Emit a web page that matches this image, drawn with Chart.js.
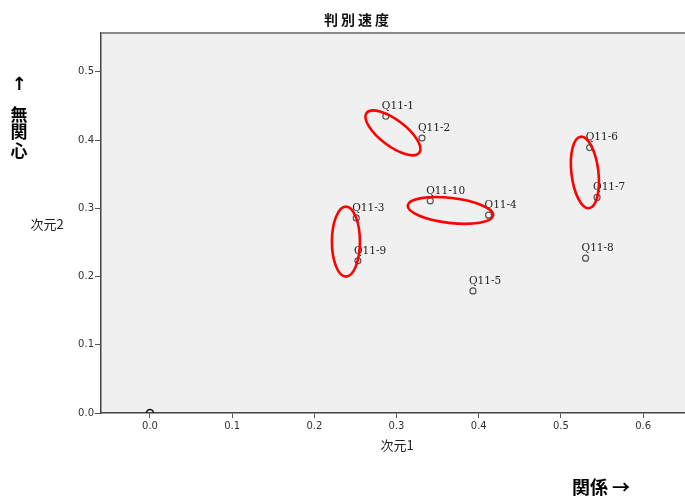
<!DOCTYPE html>
<html>
<head>
<meta charset="utf-8">
<script src="https://cdn.jsdelivr.net/npm/chart.js@4/dist/chart.umd.min.js"></script>
<style>
  html, body { margin: 0; padding: 0; background: #fff; }
  #wrap { width: 685px; height: 497px; }
</style>
</head>
<body>
<div id="wrap"><canvas id="c" width="685" height="497"></canvas></div>
<script>
// Item names and their coordinates on the two dimensions
const itemLabels = ['Q11-1', 'Q11-2', 'Q11-3', 'Q11-4', 'Q11-5', 'Q11-6', 'Q11-7', 'Q11-8', 'Q11-9', 'Q11-10'];
const dim1 = [0.287, 0.331, 0.251, 0.412, 0.393, 0.535, 0.544, 0.530, 0.253, 0.341];
const dim2 = [0.435, 0.403, 0.286, 0.290, 0.179, 0.389, 0.316, 0.227, 0.223, 0.311];

// Origin marker
const originX = [0.0];
const originY = [0.0];

// Tick values
const xTicks = [0.0, 0.1, 0.2, 0.3, 0.4, 0.5, 0.6];
const yTicks = [0.0, 0.1, 0.2, 0.3, 0.4, 0.5];

// Group outlines: centre in data units, radii (px) and rotation (deg)
const groupCentreX = [0.2956, 0.3656, 0.2384, 0.5292];
const groupCentreY = [0.4106, 0.2969, 0.2512, 0.3526];
const groupRadiusA = [33, 43, 14, 13.5];
const groupRadiusB = [13, 12.5, 35, 36];
const groupAngle = [37, 6.7, 0, -6.7];

const decorations = {
  id: 'decorations',
  beforeDraw(chart) {
    const { ctx, chartArea: a } = chart;
    ctx.save();
    ctx.fillStyle = '#ffffff';
    ctx.fillRect(0, 0, chart.width, chart.height);
    ctx.fillStyle = '#f0f0f0';
    ctx.fillRect(a.left, a.top, a.right - a.left, a.bottom - a.top);
    ctx.restore();
  },
  afterDraw(chart) {
    const { ctx, chartArea: a, scales: { x, y } } = chart;
    ctx.save();

    // top frame line
    ctx.strokeStyle = '#8a8a8a';
    ctx.lineWidth = 2;
    ctx.beginPath();
    ctx.moveTo(a.left, a.top);
    ctx.lineTo(a.right, a.top);
    ctx.stroke();

    // point labels
    ctx.fillStyle = '#222';
    ctx.font = '10.5px "DejaVu Serif"';
    ctx.textAlign = 'left';
    ctx.textBaseline = 'middle';
    itemLabels.forEach((lab, i) => {
      const px = x.getPixelForValue(dim1[i]);
      const py = y.getPixelForValue(dim2[i]);
      ctx.fillText(lab, px - 4, py - 10);
    });

    // group ellipses
    ctx.strokeStyle = '#ff0000';
    ctx.lineWidth = 2.6;
    groupCentreX.forEach((cx, i) => {
      const px = x.getPixelForValue(cx);
      const py = y.getPixelForValue(groupCentreY[i]);
      ctx.beginPath();
      ctx.ellipse(px, py, groupRadiusA[i], groupRadiusB[i], groupAngle[i] * Math.PI / 180, 0, Math.PI * 2);
      ctx.stroke();
    });

    // title
    ctx.fillStyle = '#111';
    ctx.textAlign = 'center';
    ctx.textBaseline = 'middle';
    ctx.font = 'bold 14px "Noto Sans CJK JP"';
    ctx.letterSpacing = '3px';
    ctx.fillText('判別速度', 358, 20);
    ctx.letterSpacing = '0px';

    // axis titles
    ctx.font = '13px "Noto Sans CJK JP"';
    ctx.fillStyle = '#222';
    ctx.fillText('次元1', 397, 445);
    ctx.fillText('次元2', 47, 224);

    // direction notes
    ctx.fillStyle = '#000';
    ctx.font = 'bold 18px "Noto Sans CJK JP"';
    ctx.textAlign = 'left';
    ctx.fillText('関係 →', 572, 487);

    ctx.textAlign = 'center';
    ctx.font = 'bold 18px "DejaVu Sans"';
    ctx.fillText('↑', 19, 85);
    ctx.font = 'bold 17px "Noto Sans CJK JP"';
    ctx.fillText('無', 19, 115);
    ctx.fillText('関', 19, 132);
    ctx.fillText('心', 19, 151);

    ctx.restore();
  }
};

new Chart(document.getElementById('c').getContext('2d'), {
  type: 'scatter',
  data: {
    datasets: [
      {
        data: itemLabels.map((_, i) => ({ x: dim1[i], y: dim2[i] })),
        pointRadius: 3,
        pointBorderColor: '#555',
        pointBackgroundColor: 'rgba(0,0,0,0)',
        pointBorderWidth: 1.2,
        clip: 0
      },
      {
        data: originX.map((v, i) => ({ x: v, y: originY[i] })),
        pointRadius: 3.5,
        pointBorderColor: '#111',
        pointBackgroundColor: 'rgba(0,0,0,0)',
        pointBorderWidth: 1.6,
        clip: 0
      }
    ]
  },
  options: {
    responsive: false,
    animation: false,
    devicePixelRatio: 1,
    layout: { autoPadding: false, padding: { top: 33, left: 0, right: 0, bottom: 0 } },
    plugins: { legend: { display: false }, tooltip: { enabled: false } },
    scales: {
      x: {
        type: 'linear',
        min: -0.0596,
        max: 0.651,
        afterFit(s) { s.height = 84; s.paddingLeft = 0; s.paddingRight = 0; },
        afterBuildTicks(s) { s.ticks = xTicks.map(v => ({ value: v })); },
        ticks: {
          callback: v => Number(v).toFixed(1),
          font: { family: 'DejaVu Sans', size: 10 },
          color: '#333',
          padding: 2,
          maxRotation: 0,
          autoSkip: false
        },
        grid: { drawOnChartArea: false, drawTicks: true, tickLength: 5, color: '#555' },
        border: { color: '#444', width: 1.5 }
      },
      y: {
        type: 'linear',
        min: 0,
        max: 0.557,
        afterFit(s) { s.width = 101; s.paddingTop = 0; s.paddingBottom = 0; },
        afterBuildTicks(s) { s.ticks = yTicks.map(v => ({ value: v })); },
        ticks: {
          callback: v => Number(v).toFixed(1),
          font: { family: 'DejaVu Sans', size: 10 },
          color: '#333',
          padding: 1,
          autoSkip: false
        },
        grid: { drawOnChartArea: false, drawTicks: true, tickLength: 6, color: '#555' },
        border: { color: '#444', width: 1.5 }
      }
    }
  },
  plugins: [decorations]
});
</script>
</body>
</html>
